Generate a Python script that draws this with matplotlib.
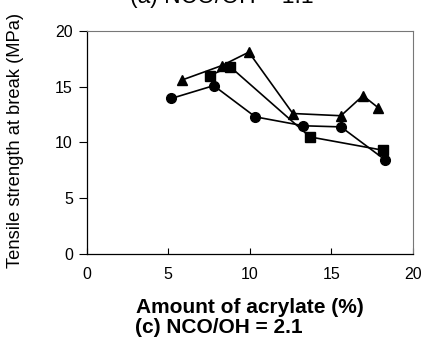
#!/usr/bin/env python3
import matplotlib
matplotlib.use("Agg")
import matplotlib.pyplot as plt

# amount of acrylate (%) vs tensile strength at break (MPa)
circle_x = [5.2, 7.8, 10.35, 13.3, 15.6, 18.3]
circle_y = [13.95, 15.1, 12.3, 11.5, 11.4, 8.45]

square_x = [7.55, 8.8, 13.7, 18.2]
square_y = [16.0, 16.8, 10.5, 9.3]

triangle_x = [5.85, 8.3, 9.95, 12.65, 15.6, 16.95, 17.9]
triangle_y = [15.6, 16.9, 18.1, 12.6, 12.4, 14.2, 13.1]

xticks = [0, 5, 10, 15, 20]
yticks = [0, 5, 10, 15, 20]


def main():
    plt.rcParams['font.family'] = ['Liberation Sans', 'DejaVu Sans']
    fig = plt.figure(figsize=(4.23, 3.39), dpi=100)
    ax = fig.add_axes([0.2045, 0.2507, 0.7712, 0.6579])

    style = dict(color='black', linewidth=1.2, markeredgecolor='black',
                 markerfacecolor='black', clip_on=False)
    ax.plot(circle_x, circle_y, marker='o', markersize=7, **style)
    ax.plot(square_x, square_y, marker='s', markersize=6.5, **style)
    ax.plot(triangle_x, triangle_y, marker='^', markersize=7.5, **style)

    ax.set_xlim(0, 20)
    ax.set_ylim(0, 20)
    ax.set_xticks(xticks)
    ax.set_yticks(yticks)
    ax.tick_params(axis='x', direction='in', length=4, width=0.8, pad=9,
                   labelsize=11.5)
    ax.tick_params(axis='y', direction='out', length=5.8, width=0.8, pad=4,
                   labelsize=11.5)

    for side in ('left', 'bottom'):
        ax.spines[side].set_color('black')
        ax.spines[side].set_linewidth(0.9)
    for side in ('top', 'right'):
        ax.spines[side].set_color('#777777')
        ax.spines[side].set_linewidth(0.8)

    fig.text(0.036, 0.587, 'Tensile strength at break (MPa)', rotation=90,
             ha='center', va='center', fontsize=13.2)
    fig.text(0.59, 0.094, 'Amount of acrylate (%)', ha='center',
             va='center', fontsize=15, fontweight='bold')
    fig.text(0.518, 0.035, '(c) NCO/OH = 2.1', ha='center', va='center',
             fontsize=15, fontweight='bold')
    # the panel title above is cut off by the page edge
    fig.text(0.525, 0.9897, '(a) NCO/OH = 1.1', ha='center',
             va='baseline', fontsize=16.5)

    fig.savefig('out.png', dpi=100)


if __name__ == '__main__':
    main()
